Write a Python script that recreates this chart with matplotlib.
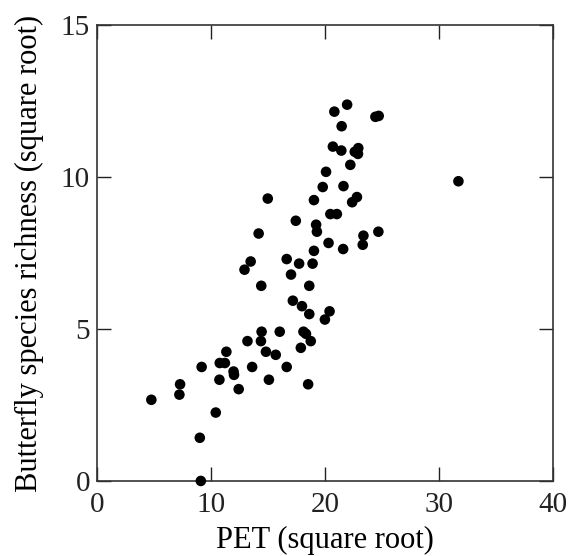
import matplotlib
matplotlib.use("Agg")
import matplotlib.pyplot as plt

pet = [4.78, 7.30, 7.24, 9.19, 9.03, 9.12, 10.43, 10.75, 10.78, 11.23,
       11.36, 11.99, 12.03, 12.44, 12.95, 13.49, 13.21, 13.62, 14.19, 14.42,
       14.45, 14.39, 14.83, 15.09, 14.99, 15.69, 16.04, 16.65, 16.65, 17.03,
       17.19, 17.45, 17.74, 17.99, 17.89, 18.12, 18.34, 18.53, 18.63, 18.63,
       18.76, 18.92, 19.04, 19.04, 19.23, 19.30, 19.81, 20.00, 20.10, 20.32,
       20.41, 20.48, 20.70, 20.83, 21.05, 21.47, 21.44, 21.63, 21.60, 21.95,
       22.23, 22.39, 22.81, 22.62, 22.93, 22.90, 23.32, 23.38, 24.43, 24.72,
       24.69, 31.71]
richness = [2.67, 3.18, 2.84, 3.75, 1.42, 0.00, 2.25, 3.33, 3.88, 3.88,
            4.25, 3.60, 3.49, 3.02, 6.95, 7.22, 4.60, 3.75, 8.14, 6.42,
            4.91, 4.60, 4.25, 3.33, 9.29, 4.15, 4.91, 7.30, 3.75, 6.79,
            5.93, 8.56, 7.15, 5.75, 4.38, 4.91, 4.84, 3.18, 5.49, 6.42,
            4.60, 7.15, 7.57, 9.24, 8.43, 8.20, 9.67, 5.31, 10.17, 7.83,
            5.58, 8.78, 11.00, 12.15, 8.78, 11.67, 10.87, 9.70, 7.63, 12.38,
            10.40, 9.17, 9.34, 10.83, 10.95, 10.76, 7.77, 8.07, 11.98, 12.01,
            8.20, 9.86]

x_ticks = [0, 10, 20, 30, 40]
y_ticks = [0, 5, 10, 15]

plt.rcParams['font.family'] = ['Liberation Serif', 'DejaVu Serif']

fig = plt.figure(figsize=(5.73, 5.56), dpi=100)
ax = fig.add_axes([0.169, 0.135, 0.796, 0.82])
ax.scatter(pet, richness, s=58, color='black', edgecolors='none', zorder=3, clip_on=False)
ax.set_xlim(0, 40)
ax.set_ylim(0, 15)
ax.set_xticks(x_ticks)
ax.set_yticks(y_ticks)
ax.tick_params(direction='in', length=10, width=1, top=True, right=True,
               labelsize=21, colors='#222222')
ax.tick_params(axis='x', pad=8)
ax.tick_params(axis='y', pad=5)
for sp in ax.spines.values():
    sp.set_linewidth(1.2)
    sp.set_color('#333333')
ax.set_xlabel('PET (square root)', fontsize=22, labelpad=6)
ax.set_ylabel('Butterfly species richness (square root)', fontsize=22, labelpad=12)

fig.savefig('out.png', dpi=100)
